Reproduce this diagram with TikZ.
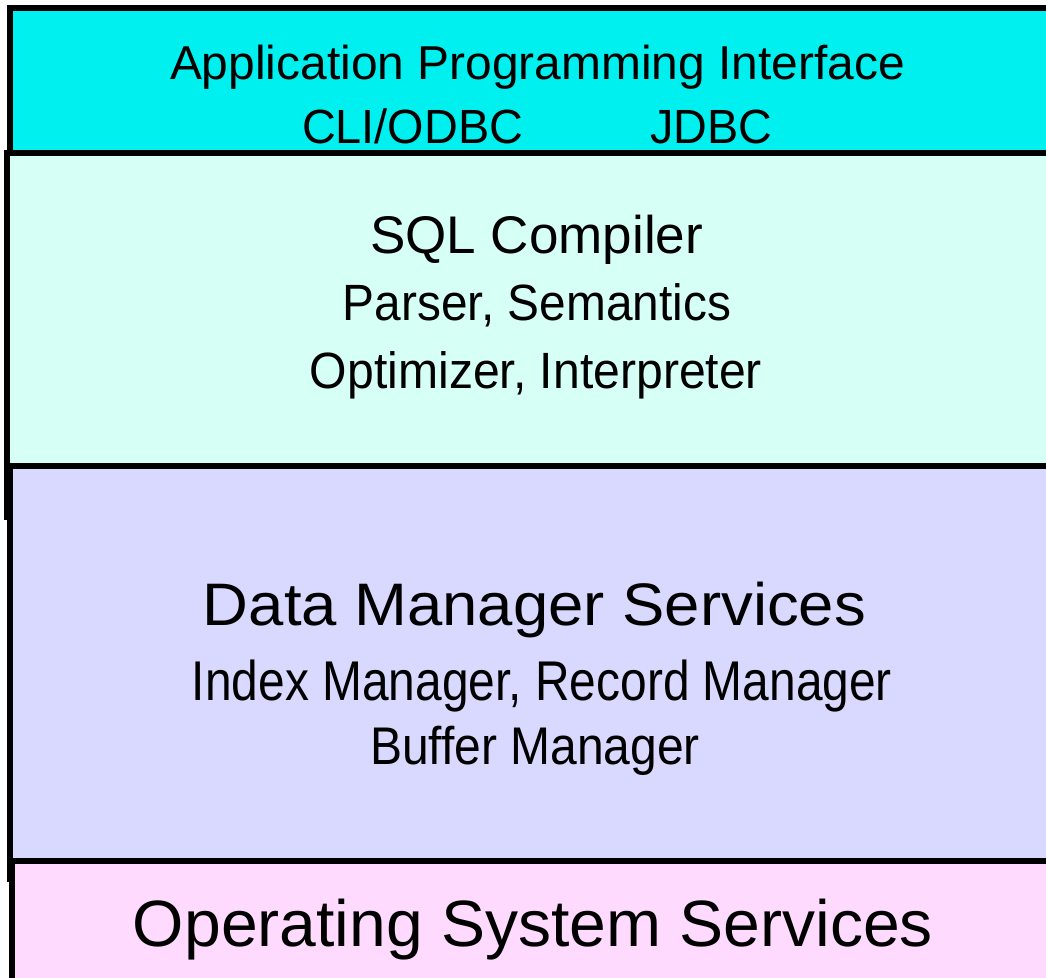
\documentclass[tikz,border=0pt]{standalone}
\usepackage{fontspec}
\setmainfont{Liberation Sans}
\usepackage{graphicx}
\definecolor{apicyan}{RGB}{0,240,240}
\definecolor{sqlmint}{RGB}{214,255,245}
\definecolor{dmblue}{RGB}{217,217,255}
\definecolor{ospink}{RGB}{255,218,255}
% text of given width (pt) and font size (pt)
\newcommand{\fitline}[3]{\resizebox{#1pt}{\height}{\fontsize{#2}{#2}\selectfont #3}}

\begin{document}
\begin{tikzpicture}[x=1pt, y=-1pt,
    layer/.style={draw, line width=6pt},
    lbl/.style={anchor=base, inner sep=0pt}]
\useasboundingbox (0,0) rectangle (1046,977);
\clip (0,0) rectangle (1046,977);

% layers, top to bottom
\filldraw[layer, fill=apicyan](9.5,7.5) rectangle (1070,153);
\filldraw[layer, fill=sqlmint](7,153) rectangle (1070,517);
\filldraw[layer, fill=dmblue](9.5,466) rectangle (1070,879);
\filldraw[layer, fill=ospink](12,861) rectangle (1070,1000);

\node[lbl] (api) at (537.5,79) {\fitline{735}{47.5}{Application Programming Interface}};
\node[lbl] (odbc) at (412.5,143) {\fitline{221}{48}{CLI/ODBC}};
\node[lbl] (jdbc) at (711,143) {\fitline{122}{48}{JDBC}};

\node[lbl] (sql) at (536.5,253) {\fitline{333}{53}{SQL Compiler}};
\node[lbl] (parser) at (537,320) {\fitline{388}{51}{Parser, Semantics}};
\node[lbl] (optim) at (536,388) {\fitline{452}{51}{Optimizer, Interpreter}};

\node[lbl] (dm) at (534.5,625) {\fitline{663}{60}{Data Manager Services}};
\node[lbl] (index) at (542,700) {\fitline{700}{56}{Index Manager, Record Manager}};
\node[lbl] (buffer) at (535,764) {\fitline{330}{53}{Buffer Manager}};

\node[lbl] (os) at (533,946) {\fitline{800}{65.5}{Operating System Services}};
\end{tikzpicture}
\end{document}
